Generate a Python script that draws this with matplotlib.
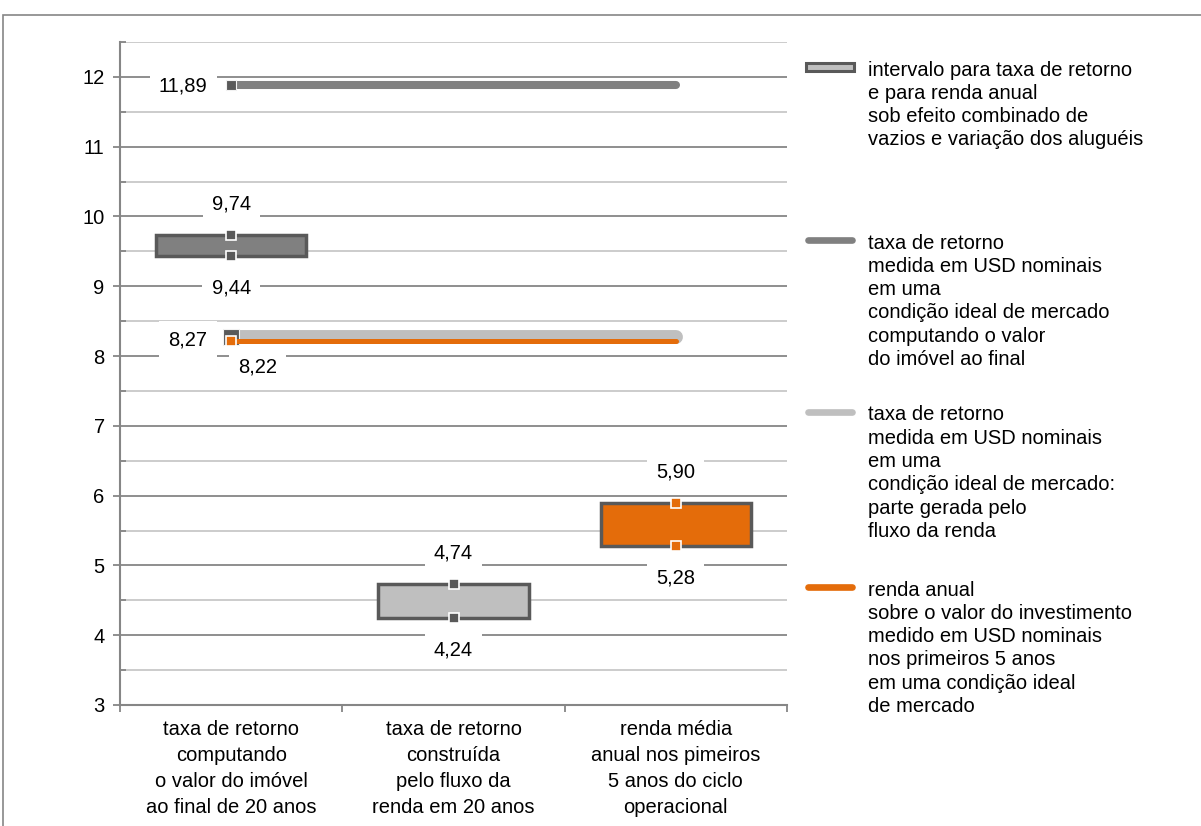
import matplotlib

matplotlib.use("Agg")
import matplotlib.pyplot as plt
from matplotlib.lines import Line2D
from matplotlib.patches import Rectangle
from matplotlib.ticker import MultipleLocator, FixedLocator, NullFormatter

plt.rcParams["font.family"] = ["Liberation Sans", "DejaVu Sans"]

categorias = [
    "taxa de retorno\ncomputando\no valor do imóvel\nao final de 20 anos",
    "taxa de retorno\nconstruída\npelo fluxo da\nrenda em 20 anos",
    "renda média\nanual nos pimeiros\n5 anos do ciclo\noperacional",
]
intervalo_min = [9.44, 4.24, 5.28]
intervalo_max = [9.74, 4.74, 5.90]
taxa_valor_final = [11.89, 11.89, 11.89]
taxa_fluxo_renda = [8.27, 8.27, 8.27]
renda_anual = [8.22, 8.22, 8.22]

legenda = [
    ["intervalo para taxa de retorno", "e para renda anual",
     "sob efeito combinado de", "vazios e variação dos aluguéis"],
    ["taxa de retorno", "medida em USD nominais", "em uma",
     "condição ideal de mercado", "computando o valor", "do imóvel ao final"],
    ["taxa de retorno", "medida em USD nominais", "em uma",
     "condição ideal de mercado:", "parte gerada pelo", "fluxo da renda"],
    ["renda anual", "sobre o valor do investimento", "medido em USD nominais",
     "nos primeiros 5 anos", "em uma condição ideal", "de mercado"],
]

CINZA_ESC = "#595959"
CINZA = "#808080"
CINZA_CLARO = "#BFBFBF"
LARANJA = "#E46C0A"
EIXO = "#868686"
FS = 14.5

W, H = 1201, 826
fig = plt.figure(figsize=(W / 100, H / 100), dpi=100)


def px(x, y):
    return x / W, 1 - y / H


def fmt(v):
    return f"{v:.2f}".replace(".", ",")


# moldura externa do gráfico
fig.add_artist(Rectangle(px(3, 900), 1.2, (900 - 15) / H, transform=fig.transFigure,
                         fill=False, edgecolor=EIXO, linewidth=1.2))

ax = fig.add_axes([120 / W, (H - 705) / H, (787 - 120) / W, (705 - 42) / H])
x = list(range(len(categorias)))
ax.set_xlim(-0.5, 2.5)
ax.set_ylim(3, 12.5)

ax.yaxis.set_major_locator(MultipleLocator(1))
ax.yaxis.set_minor_locator(MultipleLocator(0.5))
ax.grid(axis="y", which="major", color=EIXO, linewidth=1.3)
ax.grid(axis="y", which="minor", color="#C8C8C8", linewidth=1.3)
ax.set_axisbelow(True)
ax.tick_params(axis="y", which="major", direction="out", length=5, width=1.3,
               color=EIXO, labelsize=FS, pad=6)
ax.tick_params(axis="y", which="minor", direction="in", length=4, width=1.3, color=EIXO)

ax.xaxis.set_major_locator(FixedLocator([-0.5, 0.5, 1.5, 2.5]))
ax.xaxis.set_major_formatter(NullFormatter())
ax.xaxis.set_minor_locator(FixedLocator(x))
ax.set_xticklabels(categorias, minor=True, fontsize=FS, linespacing=1.45)
ax.tick_params(axis="x", which="major", direction="out", length=5, width=1.3, color=EIXO)
ax.tick_params(axis="x", which="minor", length=0, pad=11)

for lado in ("top", "right"):
    ax.spines[lado].set_visible(False)
for lado in ("left", "bottom"):
    ax.spines[lado].set_color(EIXO)
    ax.spines[lado].set_linewidth(1.5)

# barras de intervalo (mín.–máx.)
cores_caixa = [CINZA, CINZA_CLARO, LARANJA]
cores_marca = [CINZA_ESC, CINZA_ESC, LARANJA]
alturas = [hi - lo for lo, hi in zip(intervalo_min, intervalo_max)]
ax.bar(x, alturas, bottom=intervalo_min, width=0.675, color=cores_caixa,
       edgecolor=CINZA_ESC, linewidth=2.5, zorder=3)
for xi, lo, hi, cor in zip(x, intervalo_min, intervalo_max, cores_marca):
    ax.plot([xi, xi], [hi, lo], linestyle="none", marker="s", markersize=7.5,
            markerfacecolor=cor, markeredgecolor="white", markeredgewidth=1.2, zorder=5)

# séries de taxa e renda
ax.plot(x, taxa_valor_final, color=CINZA, linewidth=5.8, solid_capstyle="round",
        marker="s", markevery=[0], markersize=7.5, markerfacecolor=CINZA_ESC,
        markeredgecolor="#F2F2F2", markeredgewidth=0.8, zorder=4)
ax.plot(x, taxa_fluxo_renda, color=CINZA_CLARO, linewidth=10, solid_capstyle="round",
        marker="s", markevery=[0], markersize=11, markerfacecolor=CINZA_ESC,
        markeredgecolor="#F2F2F2", markeredgewidth=0.8, zorder=4)
ax.plot(x, renda_anual, color=LARANJA, linewidth=3.6, solid_capstyle="round",
        marker="s", markevery=[0], markersize=7.5, markerfacecolor=LARANJA,
        markeredgecolor="white", markeredgewidth=1.2, zorder=5)

caixa = dict(boxstyle="square,pad=0.45", facecolor="white", edgecolor="none")


def rotulo(xv, yv, dx, dy, ha="center"):
    ax.annotate(fmt(yv), (xv, yv), xytext=(dx, dy), textcoords="offset points",
                ha=ha, va="center", fontsize=FS, bbox=caixa, zorder=6)


for xi, lo, hi in zip(x, intervalo_min, intervalo_max):
    rotulo(xi, hi, 0, 22)
    rotulo(xi, lo, 0, -23)
rotulo(x[0], taxa_valor_final[0], -17, -1, ha="right")
rotulo(x[0], taxa_fluxo_renda[0], -17, -2, ha="right")
rotulo(x[0], renda_anual[0], 19, -19)

# legenda
y_entradas = [67, 240, 412, 587]
fig.add_artist(Rectangle(px(806, 71), 48 / W, 8 / H, transform=fig.transFigure,
                         facecolor=CINZA_CLARO, edgecolor=CINZA_ESC, linewidth=2.2))
for yv, cor in zip(y_entradas[1:], [CINZA, CINZA_CLARO, LARANJA]):
    fig.add_artist(Line2D([808 / W, 852 / W], [1 - yv / H] * 2, transform=fig.transFigure,
                          color=cor, linewidth=4.8, solid_capstyle="round"))
for y0, linhas in zip(y_entradas, legenda):
    for i, linha in enumerate(linhas):
        fig.text(*px(868, y0 + 3 + i * 23.3), linha, ha="left", va="center", fontsize=FS)

fig.savefig("out.png", dpi=100)
